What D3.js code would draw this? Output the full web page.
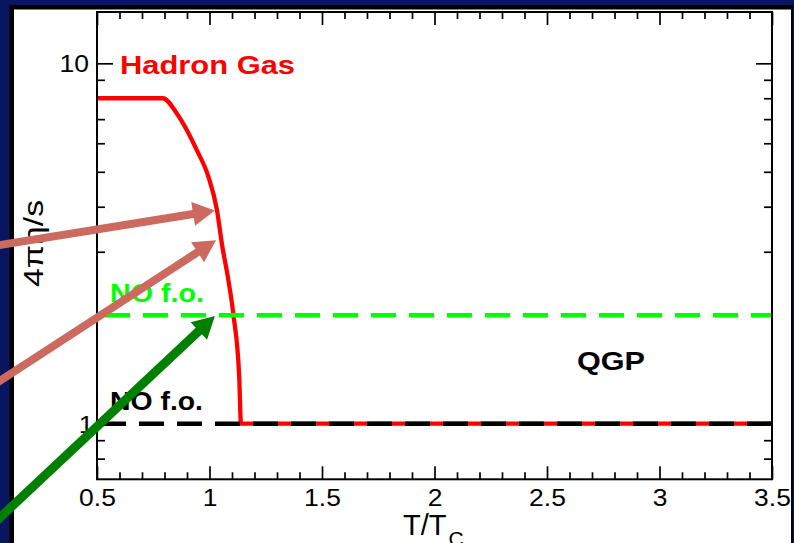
<!DOCTYPE html>
<html>
<head>
<meta charset="utf-8">
<script src="https://cdn.jsdelivr.net/npm/d3@7/dist/d3.min.js"></script>
<style>
  body { margin: 0; background: #0a1560; }
  svg { display: block; font-family: "Liberation Sans", Arial, Helvetica, sans-serif; }
</style>
</head>
<body>
<svg id="chart" width="794" height="543"></svg>
<script>
// values (T/Tc and 4*pi*eta/s)
var hadronT   = [0.5, 0.792, 0.854, 0.899, 0.943, 0.995, 1.033, 1.056, 1.084, 1.107, 1.132, 1.14, 3.5];
var hadronEta = [8.0, 8.0,   7.27,  6.53,  5.75,  4.85,  3.92,  3.13,  2.5,   1.99,  1.35,  1.0,  1.0];
var flatT     = [0.5, 3.5];
var noFoBlack = [1, 1];
var noFoGreen = [2, 2];
var xTicks    = [0.5, 1, 1.5, 2, 2.5, 3, 3.5];
var yTicks    = [1, 10];
// arrows: tail T, tail eta, tip T, tip eta
var arrowTail = [[-0.02, 3.07], [-0.02, 1.21], [-0.02, 0.487]];
var arrowTip  = [[1.024, 3.905], [1.029, 3.23], [1.024, 1.99]];
var arrowCol  = ['#cd6a60', '#cd6a60', '#008000'];
var arrowW    = [8, 8, 9];

var svg = d3.select('#chart');

/**
 * slide frame behind the plot
 */
svg.append('rect').attr('x', 9.5).attr('y', 5).attr('width', 783.5).attr('height', 560).attr('fill', '#000');
svg.append('rect').attr('x', 14).attr('y', 9.5).attr('width', 777).attr('height', 560).attr('fill', '#fff');

var x = d3.scaleLinear().domain([0.5, 3.5]).range([97, 772]);
var y = d3.scaleLog().domain([0.701, 13.88]).range([479.3, 12]);

var xMinor = d3.range(5, 36).map(function(d) { return d / 10; })
  .filter(function(d) { return xTicks.indexOf(d) < 0; });
var yMinor = y.ticks().filter(function(d) { return d > 0.75 && yTicks.indexOf(d) < 0; });

function clean(g) {
  g.select('.domain').remove();
  g.selectAll('line').attr('stroke', '#000').attr('stroke-width', 1.7);
}

// bottom + top ticks (inward)
svg.append('g').attr('transform', 'translate(0,479.3)')
  .call(d3.axisBottom(x).tickValues(xTicks).tickSize(-13))
  .call(clean)
  .call(function(g) {
    g.selectAll('text').attr('y', 27).attr('dy', 0)
      .attr('transform', 'scale(1.15,1)')
      .attr('font-size', 23).attr('font-family', null).attr('fill', '#000')
      .text(function(d) { return d; });
  });
svg.append('g').attr('transform', 'translate(0,479.3)')
  .call(d3.axisBottom(x).tickValues(xMinor).tickSize(-7).tickFormat(''))
  .call(clean);
svg.append('g').attr('transform', 'translate(0,12)')
  .call(d3.axisTop(x).tickValues(xTicks).tickSize(-13).tickFormat(''))
  .call(clean);
svg.append('g').attr('transform', 'translate(0,12)')
  .call(d3.axisTop(x).tickValues(xMinor).tickSize(-7).tickFormat(''))
  .call(clean);

// left + right ticks (inward)
svg.append('g').attr('transform', 'translate(97,0)')
  .call(d3.axisLeft(y).tickValues(yTicks).tickSize(-16).tickFormat(d3.format('d')))
  .call(clean)
  .call(function(g) {
    g.selectAll('text').attr('x', function(d) { return d < 10 ? -3 : -7; }).attr('dy', '0.37em')
      .attr('transform', 'scale(1.15,1)')
      .attr('font-size', 23).attr('font-family', null).attr('fill', '#000');
  });
svg.append('g').attr('transform', 'translate(97,0)')
  .call(d3.axisLeft(y).tickValues(yMinor).tickSize(-8).tickFormat(''))
  .call(clean);
svg.append('g').attr('transform', 'translate(772,0)')
  .call(d3.axisRight(y).tickValues(yTicks).tickSize(-16).tickFormat(''))
  .call(clean);
svg.append('g').attr('transform', 'translate(772,0)')
  .call(d3.axisRight(y).tickValues(yMinor).tickSize(-8).tickFormat(''))
  .call(clean);

var line = d3.line()
  .x(function(d) { return x(d[0]); })
  .y(function(d) { return y(d[1]); });

var plot = svg.append('g');

// hadron gas curve
plot.append('path')
  .datum(d3.zip(hadronT, hadronEta))
  .attr('d', line.curve(d3.curveMonotoneX))
  .attr('fill', 'none').attr('stroke', '#ff0000').attr('stroke-width', 4.3)
  .attr('stroke-linejoin', 'round');
line.curve(d3.curveLinear);

// NO f.o. dashed lines
plot.append('path')
  .datum(d3.zip(flatT, noFoGreen))
  .attr('d', line)
  .attr('fill', 'none').attr('stroke', '#00ff00').attr('stroke-width', 4.5)
  .attr('stroke-dasharray', '25,13').attr('stroke-dashoffset', 30);
plot.append('path')
  .datum(d3.zip(flatT, noFoBlack))
  .attr('d', line)
  .attr('fill', 'none').attr('stroke', '#000').attr('stroke-width', 4.5)
  .attr('stroke-dasharray', '25,13').attr('stroke-dashoffset', 34);

// frame
svg.append('rect')
  .attr('x', x(0.5)).attr('y', y(13.88))
  .attr('width', x(3.5) - x(0.5)).attr('height', y(0.701) - y(13.88))
  .attr('fill', 'none').attr('stroke', '#000').attr('stroke-width', 2);

// labels
function label(txt, px, py, len, col) {
  svg.append('text').attr('x', px).attr('y', py)
    .attr('font-size', 26).attr('font-weight', 'bold').attr('fill', col)
    .attr('textLength', len).attr('lengthAdjust', 'spacingAndGlyphs')
    .text(txt);
}
label('Hadron Gas', 120, 74, 175, '#ff0000');
label('NO f.o.', 110, 302, 94, '#00ff00');
label('NO f.o.', 110, 410, 93, '#000');
label('QGP', 577, 370, 68, '#000');

svg.append('text')
  .attr('transform', 'translate(43,243.5) rotate(-90)')
  .attr('text-anchor', 'middle').attr('font-size', 28)
  .attr('textLength', 87).attr('lengthAdjust', 'spacingAndGlyphs')
  .text('4\u03c0\u03b7/s');

var xl = svg.append('text').attr('x', 403).attr('y', 535).attr('font-size', 29);
xl.append('tspan').text('T/T');
xl.append('tspan').attr('font-size', 21).attr('dy', 11).attr('dx', 2).text('C');

/**
 * arrow polygon from tail to tip (pixel space)
 */
function arrowPath(p0, p1, w, hl, hw) {
  var dx = p1[0] - p0[0], dy = p1[1] - p0[1];
  var len = Math.sqrt(dx * dx + dy * dy);
  var ux = dx / len, uy = dy / len, nx = -uy, ny = ux;
  var bx = p1[0] - ux * hl, by = p1[1] - uy * hl;
  var pts = [
    [p0[0] + nx * w / 2, p0[1] + ny * w / 2],
    [bx + nx * w / 2, by + ny * w / 2],
    [bx + nx * hw, by + ny * hw],
    p1,
    [bx - nx * hw, by - ny * hw],
    [bx - nx * w / 2, by - ny * w / 2],
    [p0[0] - nx * w / 2, p0[1] - ny * w / 2]
  ];
  return 'M' + pts.join('L') + 'Z';
}

svg.append('g').selectAll('path')
  .data(arrowTail)
  .enter().append('path')
  .attr('d', function(d, i) {
    var p0 = [x(d[0]), y(d[1])];
    var p1 = [x(arrowTip[i][0]), y(arrowTip[i][1])];
    return arrowPath(p0, p1, arrowW[i], 22, 12);
  })
  .attr('fill', function(d, i) { return arrowCol[i]; });
</script>
</body>
</html>
